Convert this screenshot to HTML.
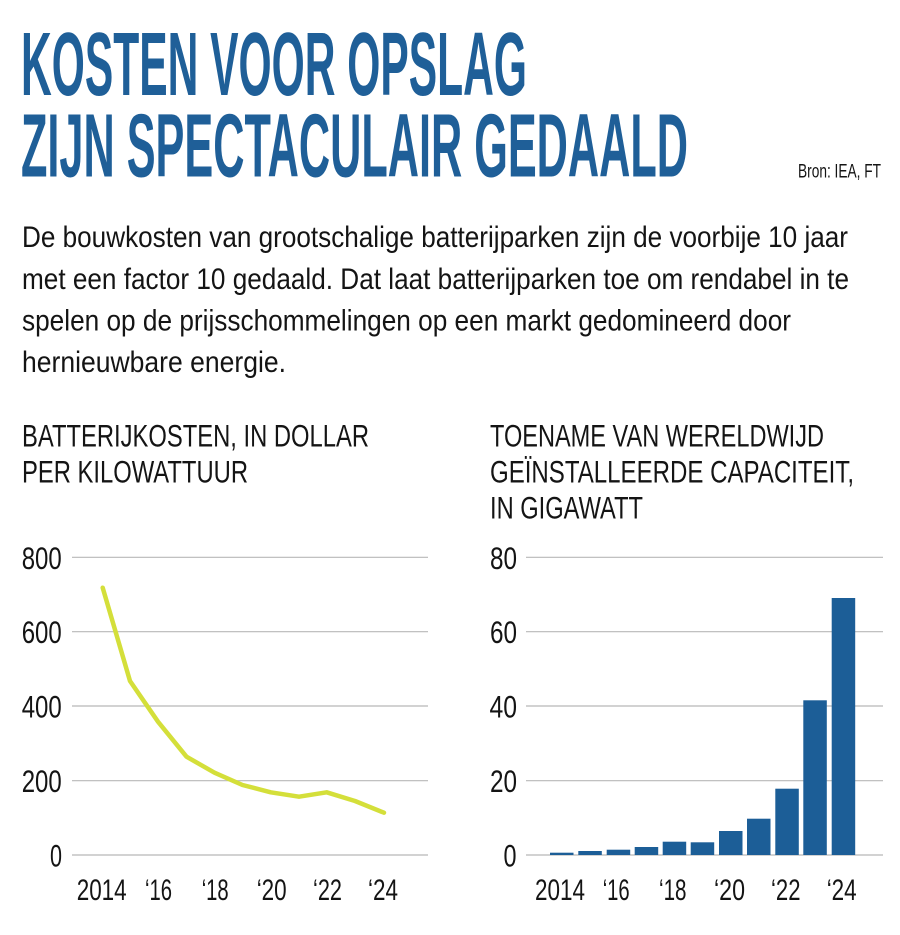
<!DOCTYPE html>
<html>
<head>
<meta charset="utf-8">
<style>
  html,body{margin:0;padding:0;background:#ffffff;}
  svg{display:block;}
  text{font-family:"Liberation Sans Narrow","Liberation Sans",sans-serif;fill:#141414;}
  .title{font-weight:bold;font-size:90px;fill:#1f5f98;}
  .body{font-size:30px;}
  .sub{font-size:31.5px;}
  .ax{font-size:31.5px;}
  .xl{font-size:30px;}
</style>
</head>
<body>
<svg width="900" height="935" viewBox="0 0 900 935" xmlns="http://www.w3.org/2000/svg">
  <rect x="0" y="0" width="900" height="935" fill="#ffffff"/>

  <!-- Title -->
  <text class="title" x="21" y="95" textLength="506" lengthAdjust="spacingAndGlyphs">KOSTEN VOOR OPSLAG</text>
  <text class="title" x="21" y="176.5" textLength="667" lengthAdjust="spacingAndGlyphs">ZIJN SPECTACULAIR GEDAALD</text>
  <text x="798" y="177.5" style="font-size:19px" textLength="83" lengthAdjust="spacingAndGlyphs">Bron: IEA, FT</text>

  <!-- Body -->
  <text class="body" x="22" y="247" textLength="826" lengthAdjust="spacingAndGlyphs">De bouwkosten van grootschalige batterijparken zijn de voorbije 10 jaar</text>
  <text class="body" x="22" y="289" textLength="827" lengthAdjust="spacingAndGlyphs">met een factor 10 gedaald. Dat laat batterijparken toe om rendabel in te</text>
  <text class="body" x="22" y="330.5" textLength="769" lengthAdjust="spacingAndGlyphs">spelen op de prijsschommelingen op een markt gedomineerd door</text>
  <text class="body" x="22" y="372" textLength="264" lengthAdjust="spacingAndGlyphs">hernieuwbare energie.</text>

  <!-- Subtitles -->
  <text class="sub" x="22" y="446.5" textLength="347" lengthAdjust="spacingAndGlyphs">BATTERIJKOSTEN, IN DOLLAR</text>
  <text class="sub" x="22" y="482.5" textLength="226" lengthAdjust="spacingAndGlyphs">PER KILOWATTUUR</text>
  <text class="sub" x="490" y="446.5" textLength="334" lengthAdjust="spacingAndGlyphs">TOENAME VAN WERELDWIJD</text>
  <text class="sub" x="490" y="482.5" textLength="364" lengthAdjust="spacingAndGlyphs">GEÏNSTALLEERDE CAPACITEIT,</text>
  <text class="sub" x="490" y="518.5" textLength="153" lengthAdjust="spacingAndGlyphs">IN GIGAWATT</text>

  <!-- Left chart grid -->
  <g stroke="#b8b8b8" stroke-width="1.2">
    <line x1="72" y1="557.3" x2="428" y2="557.3"/>
    <line x1="72" y1="631.7" x2="428" y2="631.7"/>
    <line x1="72" y1="706" x2="428" y2="706"/>
    <line x1="72" y1="780.7" x2="428" y2="780.7"/>
    <line x1="72" y1="855" x2="428" y2="855"/>
  </g>
  <!-- Left y labels -->
  <text class="ax" x="21.7" y="568.8" textLength="40" lengthAdjust="spacingAndGlyphs">800</text>
  <text class="ax" x="21.7" y="643.2" textLength="40" lengthAdjust="spacingAndGlyphs">600</text>
  <text class="ax" x="21.7" y="717.5" textLength="40" lengthAdjust="spacingAndGlyphs">400</text>
  <text class="ax" x="21.7" y="792.2" textLength="40" lengthAdjust="spacingAndGlyphs">200</text>
  <text class="ax" x="50" y="866.5" textLength="12" lengthAdjust="spacingAndGlyphs">0</text>

  <!-- Left line -->
  <polyline fill="none" stroke="#d4df3a" stroke-width="4.5" stroke-linejoin="round" stroke-linecap="round"
    points="102.7,587.7 130,681 158,721.7 186.5,756.7 214.5,772.7 242.5,785 270.7,792.3 299,796.7 326.7,792.3 355,801 384,812.7"/>

  <!-- Left x labels -->
  <text class="xl" x="76.7" y="900" textLength="50" lengthAdjust="spacingAndGlyphs">2014</text>
  <text class="xl" x="145" y="900" textLength="27" lengthAdjust="spacingAndGlyphs">‘16</text>
  <text class="xl" x="201.7" y="900" textLength="27" lengthAdjust="spacingAndGlyphs">‘18</text>
  <text class="xl" x="256.7" y="900" textLength="30" lengthAdjust="spacingAndGlyphs">‘20</text>
  <text class="xl" x="313" y="900" textLength="29" lengthAdjust="spacingAndGlyphs">‘22</text>
  <text class="xl" x="368" y="900" textLength="30" lengthAdjust="spacingAndGlyphs">‘24</text>

  <!-- Right chart grid -->
  <g stroke="#b8b8b8" stroke-width="1.2">
    <line x1="526" y1="557.3" x2="883" y2="557.3"/>
    <line x1="526" y1="631.7" x2="883" y2="631.7"/>
    <line x1="526" y1="706" x2="883" y2="706"/>
    <line x1="526" y1="780.7" x2="883" y2="780.7"/>
    <line x1="526" y1="855" x2="883" y2="855"/>
  </g>
  <!-- Right y labels -->
  <text class="ax" x="490" y="568.8" textLength="27" lengthAdjust="spacingAndGlyphs">80</text>
  <text class="ax" x="490" y="643.2" textLength="27" lengthAdjust="spacingAndGlyphs">60</text>
  <text class="ax" x="489.5" y="717.5" textLength="27.5" lengthAdjust="spacingAndGlyphs">40</text>
  <text class="ax" x="490" y="792.2" textLength="27" lengthAdjust="spacingAndGlyphs">20</text>
  <text class="ax" x="503.5" y="866.5" textLength="13" lengthAdjust="spacingAndGlyphs">0</text>

  <!-- Bars -->
  <g fill="#1c5e97">
    <rect x="550" y="852.7" width="23.5" height="2.3"/>
    <rect x="578.3" y="851" width="23.5" height="4"/>
    <rect x="606.7" y="849.7" width="23.5" height="5.3"/>
    <rect x="634.7" y="847" width="23.5" height="8"/>
    <rect x="662.7" y="841.7" width="23.5" height="13.3"/>
    <rect x="690.7" y="842.3" width="23.5" height="12.7"/>
    <rect x="719" y="831" width="23.5" height="24"/>
    <rect x="747" y="818.7" width="23.5" height="36.3"/>
    <rect x="775.3" y="788.7" width="23.5" height="66.3"/>
    <rect x="803.3" y="700.3" width="23.5" height="154.7"/>
    <rect x="831.7" y="598" width="23.5" height="257"/>
  </g>

  <!-- Right x labels -->
  <text class="xl" x="535" y="900" textLength="50" lengthAdjust="spacingAndGlyphs">2014</text>
  <text class="xl" x="602.7" y="900" textLength="27" lengthAdjust="spacingAndGlyphs">‘16</text>
  <text class="xl" x="659" y="900" textLength="27.5" lengthAdjust="spacingAndGlyphs">‘18</text>
  <text class="xl" x="714" y="900" textLength="31" lengthAdjust="spacingAndGlyphs">‘20</text>
  <text class="xl" x="771" y="900" textLength="29.5" lengthAdjust="spacingAndGlyphs">‘22</text>
  <text class="xl" x="826.7" y="900" textLength="30" lengthAdjust="spacingAndGlyphs">‘24</text>
</svg>
</body>
</html>
